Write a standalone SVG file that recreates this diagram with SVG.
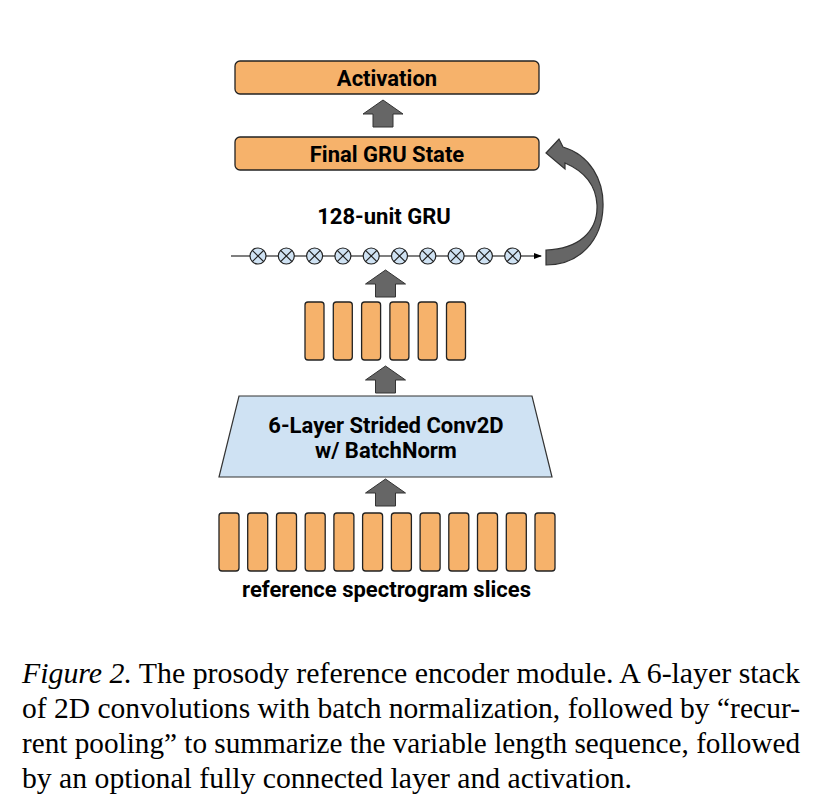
<svg xmlns="http://www.w3.org/2000/svg" width="816" height="812" viewBox="0 0 816 812">
<style>
.box{fill:#F6B26B;stroke:#222;stroke-width:1.3}
.bar{fill:#F6B26B;stroke:#222;stroke-width:1.3}
.lbl{font-family:Roboto,"Liberation Sans",sans-serif;font-weight:bold;fill:#000;text-anchor:middle;font-size:22px}
.up{fill:#666;stroke:#333;stroke-width:1}
.gru{fill:#CFE2F3;stroke:#222;stroke-width:1.2}
.x{stroke:#222;stroke-width:1.2}
.cap{font-family:"Liberation Serif","Times New Roman",serif;font-size:29px;fill:#000}
</style>
<defs>
<marker id="ah" markerWidth="8" markerHeight="8" refX="7" refY="4" orient="auto" markerUnits="userSpaceOnUse">
<path d="M0,1 L8,4 L0,7 Z" fill="#000"/>
</marker>
<g id="cell">
<circle r="8" class="gru"/>
<path d="M-5.7,-5.7 L5.7,5.7 M-5.7,5.7 L5.7,-5.7" class="x"/>
</g>
<path id="uparrow" d="M0,0 L20,14 L10,14 L10,27 L-10,27 L-10,14 L-20,14 Z" class="up"/>
</defs>

<g id="activation">
<rect x="235" y="61" width="304" height="33" rx="5" class="box"/>
<text x="387" y="85.5" class="lbl">Activation</text>
</g>

<g id="final-gru-state">
<rect x="235" y="137" width="304" height="33" rx="5" class="box"/>
<text x="387" y="162" class="lbl">Final GRU State</text>
</g>

<g id="gru">
<text x="384" y="224" class="lbl">128-unit GRU</text>
<line x1="231" y1="256" x2="541" y2="256" stroke="#000" stroke-width="1.2" marker-end="url(#ah)"/>
<use href="#cell" x="258" y="256"/>
<use href="#cell" x="286.3" y="256"/>
<use href="#cell" x="314.6" y="256"/>
<use href="#cell" x="342.9" y="256"/>
<use href="#cell" x="371.2" y="256"/>
<use href="#cell" x="399.5" y="256"/>
<use href="#cell" x="427.8" y="256"/>
<use href="#cell" x="456.1" y="256"/>
<use href="#cell" x="484.4" y="256"/>
<use href="#cell" x="512.7" y="256"/>
</g>

<g id="conv-outputs">
<rect x="305" y="302" width="19" height="58" rx="3" class="bar"/>
<rect x="333.3" y="302" width="19" height="58" rx="3" class="bar"/>
<rect x="361.6" y="302" width="19" height="58" rx="3" class="bar"/>
<rect x="389.9" y="302" width="19" height="58" rx="3" class="bar"/>
<rect x="418.2" y="302" width="19" height="58" rx="3" class="bar"/>
<rect x="446.5" y="302" width="19" height="58" rx="3" class="bar"/>
</g>

<g id="conv2d">
<path d="M239,396 L532,396 L552,477 L219,477 Z" fill="#CFE2F3" stroke="#333" stroke-width="1.2"/>
<text x="386" y="433" class="lbl">6-Layer Strided Conv2D</text>
<text x="386" y="458" class="lbl">w/ BatchNorm</text>
</g>

<g id="spectrogram-slices">
<rect x="219" y="513" width="20" height="58" rx="3" class="bar"/>
<rect x="247.7" y="513" width="20" height="58" rx="3" class="bar"/>
<rect x="276.5" y="513" width="20" height="58" rx="3" class="bar"/>
<rect x="305.2" y="513" width="20" height="58" rx="3" class="bar"/>
<rect x="333.9" y="513" width="20" height="58" rx="3" class="bar"/>
<rect x="362.6" y="513" width="20" height="58" rx="3" class="bar"/>
<rect x="391.4" y="513" width="20" height="58" rx="3" class="bar"/>
<rect x="420.1" y="513" width="20" height="58" rx="3" class="bar"/>
<rect x="448.8" y="513" width="20" height="58" rx="3" class="bar"/>
<rect x="477.5" y="513" width="20" height="58" rx="3" class="bar"/>
<rect x="506.3" y="513" width="20" height="58" rx="3" class="bar"/>
<rect x="535" y="513" width="20" height="58" rx="3" class="bar"/>
<text x="386.5" y="597" class="lbl">reference spectrogram slices</text>
</g>

<g id="connectors">
<use href="#uparrow" x="383" y="100"/>
<use href="#uparrow" x="385.5" y="270"/>
<use href="#uparrow" x="385.5" y="366"/>
<use href="#uparrow" x="385.5" y="479"/>
<path d="M546,250 C578,249 598,232 597,205 C596,186 586,172 565,163 L565,169 L546,153 L559,139 L563,147 C590,155 604,180 603,207 C602,240 580,265 546,265 Z" fill="#666" stroke="#333" stroke-width="1.2"/>
</g>

<g id="caption">
<text x="22" y="683" class="cap" textLength="778" lengthAdjust="spacingAndGlyphs"><tspan font-style="italic">Figure 2.</tspan> The prosody reference encoder module. A 6-layer stack</text>
<text x="22" y="718" class="cap" textLength="778" lengthAdjust="spacingAndGlyphs">of 2D convolutions with batch normalization, followed by “recur-</text>
<text x="22" y="753" class="cap" textLength="778" lengthAdjust="spacingAndGlyphs">rent pooling” to summarize the variable length sequence, followed</text>
<text x="22" y="788" class="cap" textLength="610" lengthAdjust="spacingAndGlyphs">by an optional fully connected layer and activation.</text>
</g>
</svg>
